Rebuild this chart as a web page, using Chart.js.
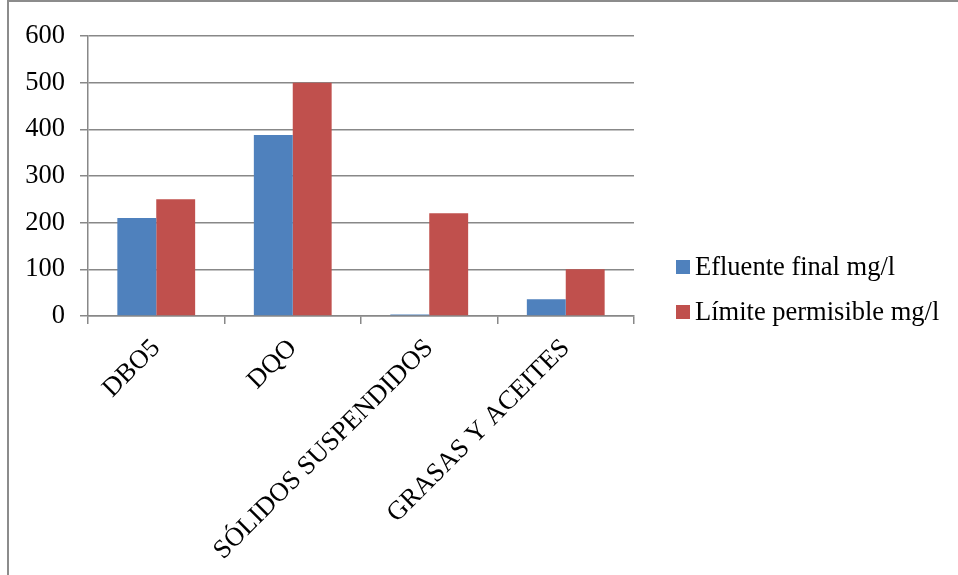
<!DOCTYPE html>
<html>
<head>
<meta charset="utf-8">
<script src="https://cdn.jsdelivr.net/npm/chart.js@4.4.1/dist/chart.umd.min.js"></script>
<style>
  html, body { margin: 0; padding: 0; background: #fff; }
  #wrap { position: relative; width: 958px; height: 575px; overflow: hidden; }
  #frame { position: absolute; left: 7px; top: 0; width: 1000px; height: 700px;
           border-left: 2px solid #8c8c8c; border-top: 2px solid #8c8c8c; }
  canvas { position: absolute; left: 0; top: 0; }
</style>
</head>
<body>
<div id="wrap">
  <div id="frame"></div>
  <canvas id="c" width="958" height="575"></canvas>
</div>
<script>
const categories = ['DBO5', 'DQO', 'SÓLIDOS SUSPENDIDOS', 'GRASAS Y ACEITES'];
const efluenteFinal = [210, 388, 3, 36];
const limitePermisible = [250, 500, 220, 100];
const seriesNames = ['Efluente final mg/l', 'Límite permisible mg/l'];
const yTicks = [0, 100, 200, 300, 400, 500, 600];

const FONT = "'Liberation Serif', 'Times New Roman', serif";
const GRID = '#888888';

// Legend drawn at the right side, built from the dataset labels and colours
const sideLegend = {
  id: 'sideLegend',
  afterDraw(chart) {
    const ctx = chart.ctx;
    ctx.save();
    ctx.font = '26.5px ' + FONT;
    ctx.textBaseline = 'middle';
    ctx.textAlign = 'left';
    chart.data.datasets.forEach((ds, i) => {
      const cy = 267 + i * 45;
      ctx.fillStyle = ds.backgroundColor;
      ctx.fillRect(676, cy - 7, 14, 14);
      ctx.fillStyle = '#000';
      ctx.fillText(ds.label, 695, cy + 1);
    });
    ctx.restore();
  }
};

new Chart(document.getElementById('c'), {
  type: 'bar',
  data: {
    labels: categories,
    datasets: [
      { label: seriesNames[0], data: efluenteFinal, backgroundColor: '#4F81BD' },
      { label: seriesNames[1], data: limitePermisible, backgroundColor: '#C0504D' }
    ]
  },
  options: {
    responsive: false,
    animation: false,
    devicePixelRatio: 1,
    layout: { padding: { top: 36, right: 324, bottom: 0, left: 0 } },
    datasets: { bar: { categoryPercentage: 0.57, barPercentage: 1.0 } },
    plugins: { legend: { display: false }, tooltip: { enabled: false } },
    scales: {
      x: {
        afterFit(scale) { scale.height = 259; },
        grid: { display: true, drawOnChartArea: false, offset: true, tickLength: 8,
                color: GRID, lineWidth: 1.5 },
        border: { color: GRID, width: 1.5 },
        ticks: { color: '#000', font: { family: FONT, size: 26.5 },
                 minRotation: 45, maxRotation: 45, autoSkip: false, padding: 9 }
      },
      y: {
        min: 0, max: 600,
        afterFit(scale) { scale.width = 88; },
        afterBuildTicks(scale) { scale.ticks = yTicks.map(v => ({ value: v })); },
        grid: { color: GRID, lineWidth: 1.5, tickLength: 8 },
        border: { color: GRID, width: 1.5 },
        ticks: { color: '#000', font: { family: FONT, size: 26.5 }, padding: 15 }
      }
    }
  },
  plugins: [sideLegend]
});
</script>
</body>
</html>
